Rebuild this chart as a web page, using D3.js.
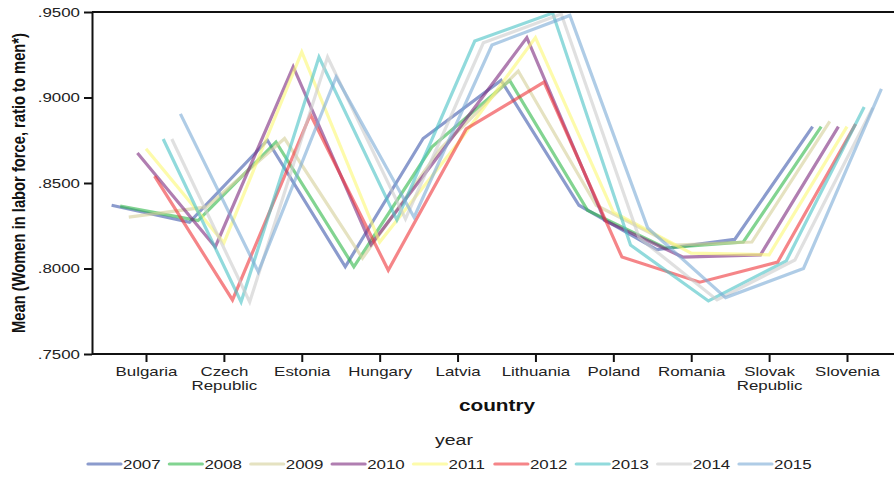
<!DOCTYPE html>
<html><head><meta charset="utf-8">
<script src="https://cdn.jsdelivr.net/npm/d3@7"></script>
<style>
body{margin:0;background:#fff;}
svg{display:block;font-family:"Liberation Sans",Arial,sans-serif;}
</style></head><body>
<svg id="c" width="894" height="477"></svg>
<script>
const countries = ["Bulgaria","Czech Republic","Estonia","Hungary","Latvia","Lithuania","Poland","Romania","Slovak Republic","Slovenia"];
const years = ["2007","2008","2009","2010","2011","2012","2013","2014","2015"];
const v2007 = [0.837, 0.827, 0.875, 0.801, 0.876, 0.910, 0.837, 0.811, 0.817, 0.883];
const v2008 = [0.8365, 0.828, 0.874, 0.801, 0.871, 0.910, 0.834, 0.812, 0.8155, 0.883];
const v2009 = [0.830, 0.836, 0.876, 0.806, 0.870, 0.9155, 0.837, 0.8137, 0.8155, 0.886];
const v2010 = [0.8675, 0.8126, 0.918, 0.814, 0.874, 0.935, 0.828, 0.8067, 0.808, 0.883];
const v2011 = [0.870, 0.815, 0.9266, 0.8155, 0.873, 0.935, 0.833, 0.809, 0.808, 0.883];
const v2012 = [0.854, 0.7816, 0.890, 0.799, 0.8816, 0.909, 0.8067, 0.792, 0.8038, 0.8845];
const v2013 = [0.8757, 0.7804, 0.9237, 0.8284, 0.933, 0.9494, 0.8137, 0.781, 0.8045, 0.8944];
const v2014 = [0.8757, 0.7804, 0.9237, 0.829, 0.932, 0.9488, 0.818, 0.7816, 0.805, 0.894];
const v2015 = [0.8904, 0.798, 0.912, 0.830, 0.9307, 0.948, 0.8237, 0.783, 0.800, 0.905];
const seriesValues = [v2007, v2008, v2009, v2010, v2011, v2012, v2013, v2014, v2015];
const colors = ["#3E58AC","#2EB848","#D3CE97","#7C287D","#FBF873","#EF3338","#48C2C5","#CCCCCC","#7AAAD5"];
const yTicks = [0.75, 0.80, 0.85, 0.90, 0.95];

const SX = 1.3; // horizontal stretch of the original text
const svg = d3.select("#c");
const mLeft = 92, mTop = 12, mBottom = 354;

const x = d3.scalePoint().domain(countries).range([146, 847]);
const xo = d3.scalePoint().domain(years).range([-34.4, 34.4]);
const y = d3.scaleLinear().domain([0.75, 0.95]).range([mBottom, mTop]);

// lines
const line = d3.line().x(d => d.x).y(d => d.y);
years.forEach((yr, i) => {
  const pts = countries.map((c, j) => ({x: x(c) + xo(yr), y: y(seriesValues[i][j])}));
  svg.append("path").attr("d", line(pts)).attr("fill", "none")
    .attr("stroke", colors[i]).attr("stroke-opacity", 0.6).attr("stroke-width", 3.2)
    .attr("stroke-linejoin", "miter");
});

// frame
svg.append("line").attr("x1", mLeft).attr("x2", 900).attr("y1", mTop).attr("y2", mTop)
  .attr("stroke", "#111").attr("stroke-width", 2);

// y axis
const fmt = d => d3.format(".4f")(d).replace(/^0/, "");
const gy = svg.append("g").attr("transform", `translate(${mLeft},0)`)
  .call(d3.axisLeft(y).tickValues(yTicks).tickFormat(fmt).tickSize(8).tickSizeOuter(0));
gy.select(".domain").attr("stroke", "#111").attr("stroke-width", 2);
gy.selectAll(".tick line").attr("stroke", "#111").attr("stroke-width", 2);
gy.selectAll(".tick text").attr("x", -12 / SX).attr("transform", `scale(${SX},1)`)
  .attr("font-size", 13).attr("font-family", "Liberation Sans, Arial, sans-serif").attr("fill", "#222");

// x axis
const gx = svg.append("g").attr("transform", `translate(0,${mBottom})`)
  .call(d3.axisBottom(x).tickSize(8).tickSizeOuter(0));
gx.select(".domain").attr("d", `M${mLeft},0H900`).attr("stroke", "#111").attr("stroke-width", 2);
gx.selectAll(".tick line").attr("stroke", "#111").attr("stroke-width", 2);
gx.selectAll(".tick text").each(function(d) {
  const t = d3.select(this);
  t.text(null).attr("y", 0).attr("dy", null)
    .attr("transform", `scale(${SX},1)`)
    .attr("font-size", 13).attr("font-family", "Liberation Sans, Arial, sans-serif").attr("fill", "#222");
  const parts = d.split(" ");
  parts.forEach((p, k) => t.append("tspan").attr("x", 0).attr("y", 22 + k * 14).text(p));
});

// axis titles
svg.append("text").attr("transform", `translate(25,${(mTop + mBottom) / 2}) scale(${SX},1) rotate(-90)`)
  .attr("text-anchor", "middle").attr("font-size", 14).attr("font-weight", "bold").attr("fill", "#111")
  .attr("textLength", 300).attr("lengthAdjust", "spacingAndGlyphs")
  .text("Mean (Women in labor force, ratio to men*)");
svg.append("text").attr("transform", `translate(497,411) scale(${SX},1)`)
  .attr("text-anchor", "middle").attr("font-size", 16).attr("font-weight", "bold").attr("fill", "#111")
  .text("country");

// legend
svg.append("text").attr("transform", `translate(454,445) scale(${SX},1)`)
  .attr("text-anchor", "middle").attr("font-size", 15).attr("fill", "#222").text("year");
const lx = d3.scalePoint().domain(years).range([88, 739]);
const lg = svg.append("g");
years.forEach((yr, i) => {
  const g = lg.append("g").attr("transform", `translate(${lx(yr)},464)`);
  g.append("line").attr("x1", 0).attr("x2", 33).attr("stroke", colors[i])
    .attr("stroke-opacity", 0.6).attr("stroke-width", 3.2).attr("stroke-linecap", "round");
  g.append("text").attr("transform", `translate(35,5) scale(${SX},1)`)
    .attr("font-size", 13).attr("fill", "#222").text(yr);
});
</script></body></html>
